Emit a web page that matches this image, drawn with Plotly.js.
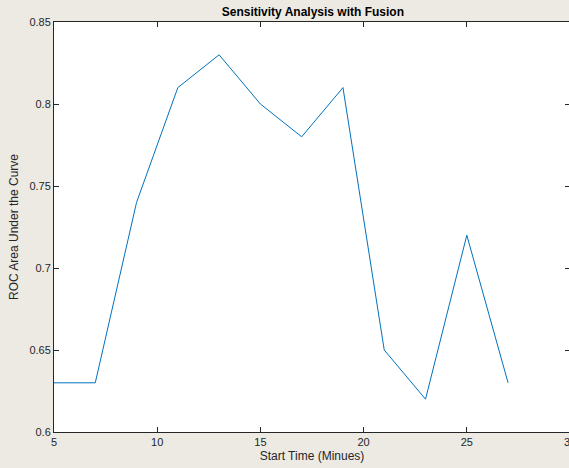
<!DOCTYPE html>
<html>
<head>
<meta charset="utf-8">
<script src="https://cdn.plot.ly/plotly-3.0.1.min.js"></script>
<style>
html,body{margin:0;padding:0;overflow:hidden;background:#edeae4;width:569px;height:468px;}
#chart{width:571px;height:468px;}
</style>
</head>
<body>
<div id="chart"></div>
<script>
var startTime = [5, 7, 9, 11, 13, 15, 17, 19, 21, 23, 25, 27];
var rocArea = [0.63, 0.63, 0.74, 0.81, 0.83, 0.80, 0.78, 0.81, 0.65, 0.62, 0.72, 0.63];
var xTickVals = [5, 10, 15, 20, 25];
var xTickText = ['5', '10', '15', '20', '25'];
var xEdgeTick = 30;
var xEdgeTickText = '30';
var yTickVals = [0.6, 0.65, 0.7, 0.75, 0.8, 0.85];
var yTickText = ['0.6', '0.65', '0.7', '0.75', '0.8', '0.85'];

var fontFam = 'Liberation Sans, Arial, sans-serif';

var trace = {
  x: startTime,
  y: rocArea,
  type: 'scatter',
  mode: 'lines',
  line: {color: '#0072BD', width: 1}
};

var axisCommon = {
  showgrid: false,
  zeroline: false,
  showline: true,
  linecolor: '#262626',
  linewidth: 1,
  mirror: 'ticks',
  ticks: 'inside',
  ticklen: 5,
  tickwidth: 1,
  tickcolor: '#262626',
  tickfont: {family: fontFam, size: 11, color: '#262626'}
};

var layout = {
  width: 571,
  height: 468,
  paper_bgcolor: '#edeae4',
  plot_bgcolor: '#ffffff',
  margin: {l: 54, r: 1, t: 22, b: 36},
  showlegend: false,
  title: {
    text: '<b>Sensitivity Analysis with Fusion</b>',
    font: {family: fontFam, size: 12, color: '#000000'},
    x: 0.548, xanchor: 'center',
    y: 1 - 12/468, yref: 'container', yanchor: 'middle'
  },
  xaxis: Object.assign({}, axisCommon, {
    range: [5, 30],
    tickmode: 'array',
    tickvals: xTickVals.concat([xEdgeTick]),
    ticktext: xTickText.concat(['']),
    title: {text: 'Start Time (Minues)', font: {family: fontFam, size: 12, color: '#262626'}, standoff: 4}
  }),
  yaxis: Object.assign({}, axisCommon, {
    range: [0.6, 0.85],
    tickmode: 'array',
    tickvals: yTickVals,
    ticktext: yTickText,
    title: {text: 'ROC Area Under the Curve', font: {family: fontFam, size: 12, color: '#262626'}, standoff: 8}
  }),
  annotations: [{
    x: xEdgeTick, xref: 'x',
    y: 0, yref: 'paper',
    xanchor: 'center', yanchor: 'top',
    yshift: -2,
    text: xEdgeTickText,
    showarrow: false,
    font: {family: fontFam, size: 11, color: '#262626'}
  }]
};

Plotly.newPlot('chart', [trace], layout, {displayModeBar: false, staticPlot: true});
</script>
</body>
</html>
